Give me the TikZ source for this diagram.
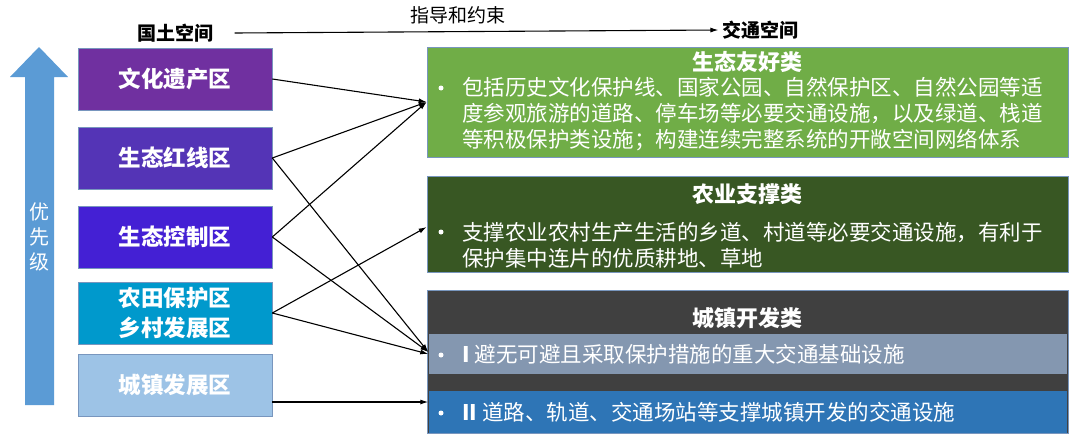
\documentclass[tikz,border=0pt]{standalone}
\usepackage{fontspec}
\setmainfont{Noto Sans CJK SC}
\usetikzlibrary{arrows.meta}

\definecolor{heritage}{RGB}{112,48,160}
\definecolor{redline}{RGB}{84,52,182}
\definecolor{ecoctrl}{RGB}{68,32,212}
\definecolor{farm}{RGB}{0,153,204}
\definecolor{town}{RGB}{157,195,230}
\definecolor{ecogreen}{RGB}{112,173,71}
\definecolor{agrigreen}{RGB}{56,87,35}
\definecolor{urbangray}{RGB}{64,64,64}
\definecolor{bandgray}{RGB}{132,151,176}
\definecolor{bandblue}{RGB}{46,117,182}
\definecolor{prioblue}{RGB}{91,155,213}
\definecolor{rim}{RGB}{120,150,190}

\begin{document}
\begin{tikzpicture}[x=1pt,y=-1pt]

\tikzset{zone/.style = {draw=rim,line width=0.6pt,minimum width=194pt,minimum height=62pt,inner sep=0pt,
  text=white,align=center,font=\fontsize{22.5}{30}\selectfont\bfseries}}
\tikzset{class/.style = {draw=rim,line width=0.6pt,minimum width=641pt,inner sep=0pt}}
\tikzset{band/.style = {minimum width=638pt,inner sep=0pt}}
\tikzset{title/.style = {text=white,font=\fontsize{22}{26}\selectfont\bfseries}}
\tikzset{body/.style = {text=white,align=left,inner sep=0pt,anchor=west,font=\fontsize{21.5}{26}\selectfont}}
\tikzset{dot/.style = {circle,fill=white,inner sep=0pt,minimum size=5pt}}
\tikzset{head/.style = {font=\fontsize{19}{22}\selectfont\bfseries}}
\tikzset{edge/.style = {-{Latex[length=8pt,width=5pt]},line width=1.1pt}}

\useasboundingbox (0,0) rectangle (1080,439);

% priority arrow
\fill[prioblue] (25,405) -- (25,77) -- (10,77) -- (39,47) -- (68,77) -- (54,77) -- (54,405) -- cycle;
\node[text=white,align=center,font=\fontsize{20}{25}\selectfont] (prio) at (39,237) {优\\先\\级};

% headings
\node[head] (land) at (175,33) {国土空间};
\node[head] (traffic) at (760,30) {交通空间};
\node[font=\fontsize{19}{22}\selectfont] (guide) at (458,15) {指导和约束};

% land zones
\node[zone,fill=heritage] (a) at (175,79) {文化遗产区};
\node[zone,fill=redline] (b) at (175,158) {生态红线区};
\node[zone,fill=ecoctrl] (c) at (175,237) {生态控制区};
\node[zone,fill=farm] (d) at (175,313) {农田保护区\\乡村发展区};
\node[zone,fill=town] (e) at (175,385) {城镇发展区};

% traffic classes
\node[class,fill=ecogreen,minimum height=110pt] (eco) at (747.5,102) {};
\node[title] (ecot) at (747.5,62) {生态友好类};
\node[dot] (ecod) at (441,88) {};
\node[body] (ecob) at (462,114) {包括历史文化保护线、国家公园、自然保护区、自然公园等适\\度参观旅游的道路、停车场等必要交通设施，以及绿道、栈道\\等积极保护类设施；构建连续完整系统的开敞空间网络体系};

\node[class,fill=agrigreen,minimum height=96pt] (agri) at (747.5,224) {};
\node[title] (agrit) at (747.5,194) {农业支撑类};
\node[dot] (agrid) at (441,232) {};
\node[body] (agrib) at (462,245) {支撑农业农村生产生活的乡道、村道等必要交通设施，有利于\\保护集中连片的优质耕地、草地};

\node[class,fill=urbangray,minimum height=143pt] (urban) at (747.5,361.5) {};
\node[title] (urbant) at (747.5,318) {城镇开发类};
\node[band,fill=bandgray,minimum height=40pt] (u1) at (747.5,354) {};
\node[dot] (u1d) at (441,355) {};
\node[body] (u1b) at (462,354) {\textbf{I} 避无可避且采取保护措施的重大交通基础设施};
\node[band,fill=bandblue,minimum height=42pt] (u2) at (747.5,412) {};
\node[dot] (u2d) at (441,413) {};
\node[body] (u2b) at (462,412) {\textbf{II} 道路、轨道、交通场站等支撑城镇开发的交通设施};

%edges
\draw[edge] ([xshift=18pt]land.east) -- (traffic.west);
\draw[edge] (a.east) to (eco.west);
\draw[edge] (b.east) to (eco.west);
\draw[edge] (b.east) to ([yshift=2pt]u1.west);
\draw[edge] (c.east) to (eco.west);
\draw[edge] (c.east) to ([yshift=2pt]u1.west);
\draw[edge] (d.east) to ([yshift=-3pt]agri.west);
\draw[edge] (d.east) to (u1.west);
\draw[edge] ([yshift=-17pt]e.east) to ([yshift=10pt]u2.west);

\end{tikzpicture}
\end{document}
